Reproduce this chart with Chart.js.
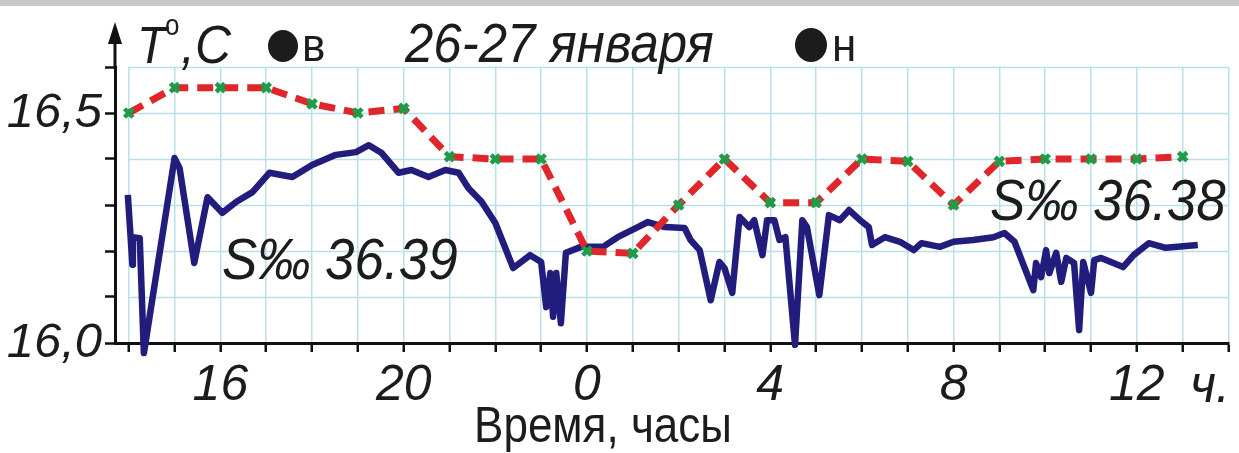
<!DOCTYPE html>
<html lang="ru">
<head>
<meta charset="utf-8">
<script src="https://cdn.jsdelivr.net/npm/chart.js@4.4.1/dist/chart.umd.min.js"></script>
<style>
  html, body { margin: 0; padding: 0; background: #fff; }
  #chart { display: block; }
</style>
</head>
<body>
<canvas id="chart" width="1239" height="453"></canvas>
<script>
const FONT = "'Liberation Sans', Arial, sans-serif";

// часы (14 = 14:00 26 января, 24 = 0:00, 37 = 13:00 27 января)
const redHours = [14, 15, 16, 17, 18, 19, 20, 21, 22, 23, 24, 25, 26, 27, 28, 29, 30, 31, 32, 33, 34, 35, 36, 37];
const redTemps = [16.50, 16.555, 16.555, 16.555, 16.52, 16.50, 16.51, 16.405, 16.40, 16.40, 16.20, 16.195,
  16.30, 16.40, 16.305, 16.305, 16.40, 16.395, 16.30, 16.395, 16.40, 16.40, 16.40, 16.405];

const blueHours = [13.98, 14.08, 14.09, 14.24, 14.33, 15.00, 15.11, 15.43, 15.72, 16.04, 16.35, 16.70,
  17.07, 17.57, 18.00, 18.52, 18.96, 19.24, 19.52, 19.89, 20.17, 20.54, 20.91, 21.20, 21.41, 21.70,
  22.00, 22.39, 22.76, 23.00, 23.11, 23.20, 23.26, 23.33, 23.43, 23.54, 23.87, 24.35, 24.67, 25.11,
  25.33, 25.70, 26.13, 26.26, 26.46, 26.70, 26.89, 27.00, 27.17, 27.33, 27.54, 27.65, 27.83, 27.93,
  28.09, 28.20, 28.33, 28.54, 28.70, 28.80, 29.07, 29.28, 29.52, 29.72, 29.96, 30.15, 30.22, 30.50,
  30.83, 31.13, 31.30, 31.70, 32.00, 32.43, 32.87, 33.11, 33.33, 33.74, 33.80, 33.91, 34.02, 34.09,
  34.24, 34.35, 34.46, 34.63, 34.74, 34.83, 35.00, 35.07, 35.22, 35.70, 35.93, 36.26, 36.63, 37.33];
const blueTemps = [16.322, 16.170, 16.230, 16.228, 15.978, 16.402, 16.380, 16.174, 16.317, 16.283, 16.307, 16.328,
  16.370, 16.361, 16.387, 16.409, 16.415, 16.430, 16.413, 16.370, 16.376, 16.361, 16.376, 16.370, 16.337, 16.307,
  16.261, 16.163, 16.191, 16.176, 16.078, 16.152, 16.057, 16.152, 16.043, 16.196, 16.209, 16.209, 16.230, 16.252,
  16.263, 16.252, 16.250, 16.224, 16.202, 16.093, 16.176, 16.163, 16.109, 16.274, 16.252, 16.267, 16.191, 16.267,
  16.267, 16.224, 16.230, 15.996, 16.267, 16.252, 16.104, 16.278, 16.267, 16.289, 16.267, 16.252, 16.213, 16.230,
  16.220, 16.202, 16.217, 16.209, 16.220, 16.224, 16.230, 16.239, 16.220, 16.115, 16.174, 16.143, 16.202, 16.152,
  16.196, 16.133, 16.185, 16.174, 16.028, 16.176, 16.109, 16.180, 16.185, 16.165, 16.191, 16.217, 16.207, 16.213];

const xLabelHours = [16, 20, 24, 28, 32, 36];
const xLabelTexts = ['16', '20', '0', '4', '8', '12'];
const yLabelValues = [16.0, 16.5];
const yLabelTexts = ['16,0', '16,5'];

const gridColor = '#b9dfe8';
const inkColor = '#1c1c1c';

// текст слегка вытянут по вертикали, как на рисунке
function tallText(ctx, text, x, y, font, sy) {
  ctx.save();
  ctx.font = font;
  ctx.translate(x, y);
  ctx.scale(1, sy);
  ctx.fillText(text, 0, 0);
  ctx.restore();
}

// подписи, сетка и стрелка оси
const decor = {
  id: 'decor',
  beforeDraw(chart) {
    const ctx = chart.ctx;
    ctx.save();
    ctx.fillStyle = '#fff';
    ctx.fillRect(0, 0, chart.width, chart.height);
    ctx.fillStyle = '#c9c9c9';
    ctx.fillRect(0, 0, chart.width, 6);
    ctx.restore();
  },
  beforeDatasetsDraw(chart) {
    const { ctx, scales: { x, y } } = chart;
    ctx.save();
    ctx.strokeStyle = gridColor;
    ctx.lineWidth = 1.5;
    y.ticks.forEach(t => {
      if (t.value <= y.min + 1e-6) return;
      const py = Math.round(y.getPixelForValue(t.value)) + 0.5;
      ctx.beginPath();
      ctx.moveTo(x.getPixelForValue(14), py);
      ctx.lineTo(x.getPixelForValue(38), py);
      ctx.stroke();
    });
    ctx.restore();
  },
  afterDraw(chart) {
    const { ctx, chartArea } = chart;
    ctx.save();
    // стрелка оси Y
    const ax = chartArea.left;
    ctx.strokeStyle = '#111';
    ctx.lineWidth = 3;
    ctx.beginPath();
    ctx.moveTo(ax, chartArea.top);
    ctx.lineTo(ax, 38);
    ctx.stroke();
    ctx.fillStyle = '#111';
    ctx.beginPath();
    ctx.moveTo(ax, 22);
    ctx.lineTo(ax - 7, 44);
    ctx.lineTo(ax + 7, 44);
    ctx.closePath();
    ctx.fill();

    ctx.fillStyle = inkColor;
    ctx.textBaseline = 'alphabetic';
    ctx.textAlign = 'left';
    // заголовок
    tallText(ctx, 'T', 137, 63, `italic 48px ${FONT}`, 1.08);
    tallText(ctx, 'o', 165, 35, `26px ${FONT}`, 1.1);
    tallText(ctx, ',C', 181, 63, `italic 50px ${FONT}`, 1.08);
    ctx.beginPath();
    ctx.ellipse(283, 46, 15, 16, 0, 0, Math.PI * 2);
    ctx.fill();
    tallText(ctx, 'в', 302, 61, `44px ${FONT}`, 1.05);
    tallText(ctx, '26-27 января', 405, 62, `italic 51px ${FONT}`, 1.08);
    ctx.beginPath();
    ctx.ellipse(811, 45, 16, 17, 0, 0, Math.PI * 2);
    ctx.fill();
    tallText(ctx, 'н', 832, 61, `44px ${FONT}`, 1.05);

    // солёность
    tallText(ctx, 'S‰ 36.39', 222, 279, `italic 53px ${FONT}`, 1.08);
    tallText(ctx, 'S‰ 36.38', 990, 220, `italic 53px ${FONT}`, 1.08);

    // единицы и название оси X
    tallText(ctx, 'ч.', 1190, 402, `italic 50px ${FONT}`, 1.08);
    ctx.textAlign = 'center';
    tallText(ctx, 'Время, часы', 603, 442, `44px ${FONT}`, 1.15);
    ctx.restore();
  }
};

new Chart(document.getElementById('chart'), {
  type: 'line',
  data: {
    datasets: [
      {
        label: 'в',
        data: redHours.map((h, i) => ({ x: h, y: redTemps[i] })),
        borderColor: '#e1262b',
        borderWidth: 7,
        borderDash: [16, 9],
        pointStyle: 'crossRot',
        pointRadius: 6,
        pointBorderWidth: 4.5,
        pointBorderColor: '#1f9c48',
        pointBackgroundColor: '#1f9c48',
        tension: 0,
        fill: false
      },
      {
        label: 'н',
        data: blueHours.map((h, i) => ({ x: h, y: blueTemps[i] })),
        borderColor: '#221c7c',
        borderWidth: 6.5,
        borderJoinStyle: 'round',
        pointRadius: 0,
        tension: 0,
        fill: false,
        clip: false
      }
    ]
  },
  options: {
    responsive: false,
    animation: false,
    events: [],
    layout: { padding: { top: 67, right: 6, left: 0, bottom: 0 } },
    plugins: {
      legend: { display: false },
      tooltip: { enabled: false },
      title: { display: false }
    },
    scales: {
      x: {
        type: 'linear',
        min: 13.7,
        max: 38,
        afterFit: s => { s.height = 110; },
        border: { display: true, color: '#111', width: 3 },
        grid: {
          color: gridColor,
          lineWidth: 1.5,
          drawTicks: true,
          tickLength: 9,
          tickColor: '#111',
          tickWidth: 2.5
        },
        ticks: {
          stepSize: 1,
          includeBounds: false,
          autoSkip: false,
          maxRotation: 0,
          minRotation: 0,
          padding: 4,
          color: inkColor,
          font: { family: FONT, size: 50, style: 'italic' },
          callback: v => {
            const i = xLabelHours.indexOf(v);
            return i >= 0 ? xLabelTexts[i] : '';
          }
        }
      },
      y: {
        min: 16.0,
        max: 16.6,
        afterFit: s => { s.width = 115; },
        border: { display: true, color: '#111', width: 3 },
        grid: {
          drawOnChartArea: false,
          drawTicks: true,
          tickLength: 10,
          tickColor: '#111',
          tickWidth: 2.5
        },
        ticks: {
          stepSize: 0.1,
          autoSkip: false,
          padding: 3,
          color: inkColor,
          font: { family: FONT, size: 49, style: 'italic' },
          callback: v => {
            const i = yLabelValues.findIndex(t => Math.abs(t - v) < 1e-6);
            return i >= 0 ? yLabelTexts[i] : '';
          }
        }
      }
    }
  },
  plugins: [decor]
});
</script>
</body>
</html>
